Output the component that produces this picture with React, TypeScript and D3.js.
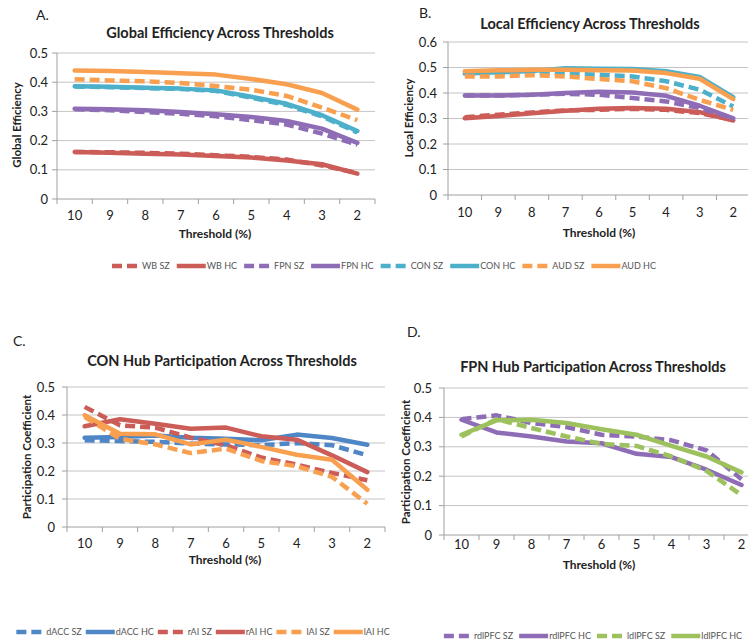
import React, { useEffect, useRef } from "react";
import * as d3 from "d3";

const thresholds = ["10", "9", "8", "7", "6", "5", "4", "3", "2"];

const cRed = "#CB5C57";
const cPurple = "#8E6DB6";
const cCyan = "#4DB0CB";
const cOrange = "#F8A04F";
const cBlue = "#4F86C6";
const cGreen = "#9DC15C";

// Panel A: Global efficiency
const geWbSz = [0.161, 0.16, 0.158, 0.155, 0.15, 0.144, 0.135, 0.115, 0.089];
const geWbHc = [0.161, 0.158, 0.155, 0.152, 0.147, 0.142, 0.132, 0.119, 0.087];
const geFpnSz = [0.307, 0.304, 0.298, 0.292, 0.283, 0.27, 0.255, 0.224, 0.186];
const geFpnHc = [0.309, 0.307, 0.304, 0.298, 0.29, 0.281, 0.267, 0.241, 0.192];
const geConSz = [0.385, 0.383, 0.38, 0.377, 0.37, 0.347, 0.322, 0.283, 0.228];
const geConHc = [0.386, 0.384, 0.381, 0.378, 0.372, 0.35, 0.326, 0.287, 0.233];
const geAudSz = [0.41, 0.406, 0.403, 0.397, 0.387, 0.374, 0.353, 0.313, 0.27];
const geAudHc = [0.44, 0.438, 0.435, 0.431, 0.426, 0.411, 0.393, 0.363, 0.306];

// Panel B: Local efficiency
const leWbSz = [0.305, 0.315, 0.324, 0.332, 0.334, 0.338, 0.334, 0.321, 0.295];
const leWbHc = [0.301, 0.31, 0.321, 0.33, 0.338, 0.341, 0.338, 0.325, 0.292];
const leFpnSz = [0.39, 0.39, 0.393, 0.397, 0.393, 0.38, 0.367, 0.341, 0.301];
const leFpnHc = [0.39, 0.39, 0.393, 0.4, 0.405, 0.402, 0.389, 0.35, 0.301];
const leConSz = [0.476, 0.476, 0.481, 0.476, 0.472, 0.465, 0.446, 0.413, 0.347];
const leConHc = [0.476, 0.481, 0.486, 0.497, 0.495, 0.494, 0.485, 0.463, 0.384];
const leAudSz = [0.465, 0.465, 0.47, 0.465, 0.455, 0.446, 0.419, 0.373, 0.334];
const leAudHc = [0.485, 0.489, 0.491, 0.491, 0.489, 0.488, 0.478, 0.456, 0.376];

// Panel C: CON hub participation
const dAccSz = [0.31, 0.307, 0.304, 0.298, 0.295, 0.292, 0.3, 0.292, 0.256];
const dAccHc = [0.319, 0.321, 0.327, 0.319, 0.315, 0.31, 0.33, 0.318, 0.294];
const rAiSz = [0.429, 0.363, 0.355, 0.319, 0.292, 0.248, 0.223, 0.193, 0.167];
const rAiHc = [0.36, 0.385, 0.369, 0.351, 0.355, 0.324, 0.312, 0.256, 0.196];
const lAiSz = [0.393, 0.315, 0.295, 0.264, 0.28, 0.236, 0.217, 0.179, 0.083];
const lAiHc = [0.399, 0.333, 0.331, 0.295, 0.312, 0.286, 0.258, 0.24, 0.133];

// Panel D: FPN hub participation
const rdlSz = [0.394, 0.407, 0.381, 0.367, 0.341, 0.335, 0.322, 0.288, 0.19];
const rdlHc = [0.392, 0.349, 0.335, 0.318, 0.312, 0.276, 0.265, 0.222, 0.17];
const ldlSz = [0.335, 0.394, 0.364, 0.335, 0.31, 0.303, 0.267, 0.218, 0.136];
const ldlHc = [0.341, 0.39, 0.392, 0.381, 0.36, 0.341, 0.303, 0.267, 0.213];

type Series = { name: string; values: number[]; color: string; dashed: boolean };

const seriesA: Series[] = [
  { name: "WB SZ", values: geWbSz, color: cRed, dashed: true },
  { name: "WB HC", values: geWbHc, color: cRed, dashed: false },
  { name: "FPN SZ", values: geFpnSz, color: cPurple, dashed: true },
  { name: "FPN HC", values: geFpnHc, color: cPurple, dashed: false },
  { name: "CON SZ", values: geConSz, color: cCyan, dashed: true },
  { name: "CON HC", values: geConHc, color: cCyan, dashed: false },
  { name: "AUD SZ", values: geAudSz, color: cOrange, dashed: true },
  { name: "AUD HC", values: geAudHc, color: cOrange, dashed: false },
];
const seriesB: Series[] = [
  { name: "WB SZ", values: leWbSz, color: cRed, dashed: true },
  { name: "WB HC", values: leWbHc, color: cRed, dashed: false },
  { name: "FPN SZ", values: leFpnSz, color: cPurple, dashed: true },
  { name: "FPN HC", values: leFpnHc, color: cPurple, dashed: false },
  { name: "CON SZ", values: leConSz, color: cCyan, dashed: true },
  { name: "CON HC", values: leConHc, color: cCyan, dashed: false },
  { name: "AUD SZ", values: leAudSz, color: cOrange, dashed: true },
  { name: "AUD HC", values: leAudHc, color: cOrange, dashed: false },
];
const seriesC: Series[] = [
  { name: "dACC SZ", values: dAccSz, color: cBlue, dashed: true },
  { name: "dACC HC", values: dAccHc, color: cBlue, dashed: false },
  { name: "rAI SZ", values: rAiSz, color: cRed, dashed: true },
  { name: "rAI HC", values: rAiHc, color: cRed, dashed: false },
  { name: "lAI SZ", values: lAiSz, color: cOrange, dashed: true },
  { name: "lAI HC", values: lAiHc, color: cOrange, dashed: false },
];
const seriesD: Series[] = [
  { name: "rdlPFC SZ", values: rdlSz, color: cPurple, dashed: true },
  { name: "rdlPFC HC", values: rdlHc, color: cPurple, dashed: false },
  { name: "ldlPFC SZ", values: ldlSz, color: cGreen, dashed: true },
  { name: "ldlPFC HC", values: ldlHc, color: cGreen, dashed: false },
];

const FONT = "Lato, 'Open Sans', sans-serif";
const DASH = "10 5";

type PanelCfg = {
  letter: string; letterX: number; letterY: number;
  title: string; titleX: number; titleY: number;
  yLabel: string; yLabelX: number; yLabelY: number;
  x0: number; x1: number; yBottom: number; yTop: number; yMax: number;
  tickRight: number; xTickY: number; xTitleX: number; xTitleY: number;
  series: Series[];
};

const panels: PanelCfg[] = [
  { letter: "A.", letterX: 36, letterY: 20, title: "Global Efficiency Across Thresholds", titleX: 220, titleY: 38,
    yLabel: "Global Efficiency", yLabelX: 21, yLabelY: 125,
    x0: 57, x1: 375, yBottom: 199, yTop: 53, yMax: 0.5, tickRight: 48, xTickY: 220, xTitleX: 215, xTitleY: 238, series: seriesA },
  { letter: "B.", letterX: 419, letterY: 18, title: "Local Efficiency Across Thresholds", titleX: 590, titleY: 29,
    yLabel: "Local Efficiency", yLabelX: 413, yLabelY: 118,
    x0: 448, x1: 750, yBottom: 195, yTop: 42, yMax: 0.6, tickRight: 437, xTickY: 217, xTitleX: 599, xTitleY: 237, series: seriesB },
  { letter: "C.", letterX: 13, letterY: 346, title: "CON Hub Participation Across Thresholds", titleX: 222, titleY: 366,
    yLabel: "Participation Coefficient", yLabelX: 31, yLabelY: 457,
    x0: 67, x1: 385, yBottom: 527, yTop: 387, yMax: 0.5, tickRight: 55, xTickY: 548, xTitleX: 225, xTitleY: 564, series: seriesC },
  { letter: "D.", letterX: 407, letterY: 337, title: "FPN Hub Participation Across Thresholds", titleX: 593, titleY: 372,
    yLabel: "Participation Coefficient", yLabelX: 410, yLabelY: 462,
    x0: 444, x1: 759, yBottom: 535, yTop: 388, yMax: 0.5, tickRight: 432, xTickY: 549, xTitleX: 599, xTitleY: 569, series: seriesD },
];

const legends = [
  { series: seriesA, cx: 384, y: 266, gap: 7 },
  { series: seriesC, cx: 203, y: 632, gap: 4 },
  { series: seriesD, cx: 593, y: 636, gap: 6 },
];

function drawPanel(svg: d3.Selection<SVGSVGElement, unknown, null, undefined>, p: PanelCfg) {
  const g = svg.append("g");
  const x = d3.scaleBand<string>().domain(thresholds).range([p.x0, p.x1]);
  const y = d3.scaleLinear().domain([0, p.yMax]).range([p.yBottom, p.yTop]);
  const yTicks = d3.range(0, p.yMax + 1e-9, 0.1);

  g.append("text").attr("x", p.letterX).attr("y", p.letterY).text(p.letter)
    .attr("font-size", 14).attr("font-family", FONT).attr("fill", "#222");
  g.append("text").attr("x", p.titleX).attr("y", p.titleY).text(p.title)
    .attr("text-anchor", "middle").attr("font-size", 14.5).attr("font-weight", "bold")
    .attr("font-family", FONT).attr("fill", "#222");

  g.selectAll(".grid").data(yTicks.filter((t) => t > 0)).enter().append("line")
    .attr("x1", p.x0).attr("x2", p.x1).attr("y1", (d) => y(d)).attr("y2", (d) => y(d))
    .attr("stroke", "#C4C4C4").attr("stroke-width", 1);
  g.selectAll(".yt").data(yTicks).enter().append("line")
    .attr("x1", p.x0 - 5).attr("x2", p.x0).attr("y1", (d) => y(d)).attr("y2", (d) => y(d))
    .attr("stroke", "#A0A0A0").attr("stroke-width", 1);
  g.selectAll(".yl").data(yTicks).enter().append("text")
    .attr("x", p.tickRight).attr("y", (d) => y(d)).attr("dy", "0.35em")
    .attr("text-anchor", "end").attr("font-size", 13).attr("font-family", FONT).attr("fill", "#222")
    .text((d) => (d === 0 ? "0" : d3.format(".1f")(d)));
  g.append("line").attr("x1", p.x0).attr("x2", p.x0).attr("y1", p.yTop).attr("y2", p.yBottom)
    .attr("stroke", "#A0A0A0").attr("stroke-width", 1);
  g.append("line").attr("x1", p.x0).attr("x2", p.x1).attr("y1", p.yBottom).attr("y2", p.yBottom)
    .attr("stroke", "#A0A0A0").attr("stroke-width", 1);
  const bounds = thresholds.map((t) => x(t) as number).concat([p.x1]);
  g.selectAll(".xt").data(bounds).enter().append("line")
    .attr("x1", (d) => d).attr("x2", (d) => d).attr("y1", p.yBottom).attr("y2", p.yBottom + 5)
    .attr("stroke", "#A0A0A0").attr("stroke-width", 1);
  g.selectAll(".xl").data(thresholds).enter().append("text")
    .attr("x", (d) => (x(d) as number) + x.bandwidth() / 2).attr("y", p.xTickY)
    .attr("text-anchor", "middle").attr("font-size", 13).attr("font-family", FONT).attr("fill", "#222")
    .text((d) => d);
  g.append("text").attr("x", p.xTitleX).attr("y", p.xTitleY).text("Threshold (%)")
    .attr("text-anchor", "middle").attr("font-size", 12).attr("font-weight", "bold")
    .attr("font-family", FONT).attr("fill", "#222");
  g.append("text").attr("transform", `translate(${p.yLabelX},${p.yLabelY}) rotate(-90)`)
    .text(p.yLabel).attr("text-anchor", "middle").attr("font-size", 11.5).attr("font-weight", "bold")
    .attr("font-family", FONT).attr("fill", "#222");

  const line = d3.line<number>()
    .x((_, i) => (x(thresholds[i]) as number) + x.bandwidth() / 2)
    .y((d) => y(d));
  p.series.forEach((s) => {
    g.append("path").attr("d", line(s.values) as string).attr("fill", "none")
      .attr("stroke", s.color).attr("stroke-width", 4.5)
      .attr("stroke-linejoin", "round").attr("stroke-linecap", s.dashed ? "butt" : "round")
      .attr("stroke-dasharray", s.dashed ? DASH : null);
  });
}

function drawLegend(svg: d3.Selection<SVGSVGElement, unknown, null, undefined>, series: Series[], cx: number, y: number, gap: number) {
  const g = svg.append("g");
  const items = series.map((s) => {
    const ig = g.append("g");
    ig.append("line").attr("x1", 0).attr("x2", s.dashed ? 25 : 29).attr("y1", 0).attr("y2", 0)
      .attr("stroke", s.color).attr("stroke-width", 4.5)
      .attr("stroke-dasharray", s.dashed ? DASH : null);
    const t = ig.append("text").attr("x", 30).attr("y", 0).attr("dy", "0.35em").text(s.name)
      .attr("font-size", 9).attr("font-family", FONT).attr("fill", "#555");
    const w = 30 + (t.node() as SVGTextElement).getComputedTextLength();
    return { ig, w };
  });
  const total = d3.sum(items, (d) => d.w) + gap * (items.length - 1);
  let cur = cx - total / 2;
  items.forEach((it) => {
    it.ig.attr("transform", `translate(${cur},${y})`);
    cur += it.w + gap;
  });
}

export default function App() {
  const ref = useRef<SVGSVGElement | null>(null);
  useEffect(() => {
    const svg = d3.select(ref.current as SVGSVGElement);
    svg.selectAll("*").remove();
    svg.append("rect").attr("width", 748).attr("height", 643).attr("fill", "#fff");
    panels.forEach((p) => drawPanel(svg, p));
    legends.forEach((l) => drawLegend(svg, l.series, l.cx, l.y, l.gap));
  }, []);
  return (
    <svg ref={ref} width={748} height={643} style={{ position: "absolute", left: 0, top: 0 }} />
  );
}
